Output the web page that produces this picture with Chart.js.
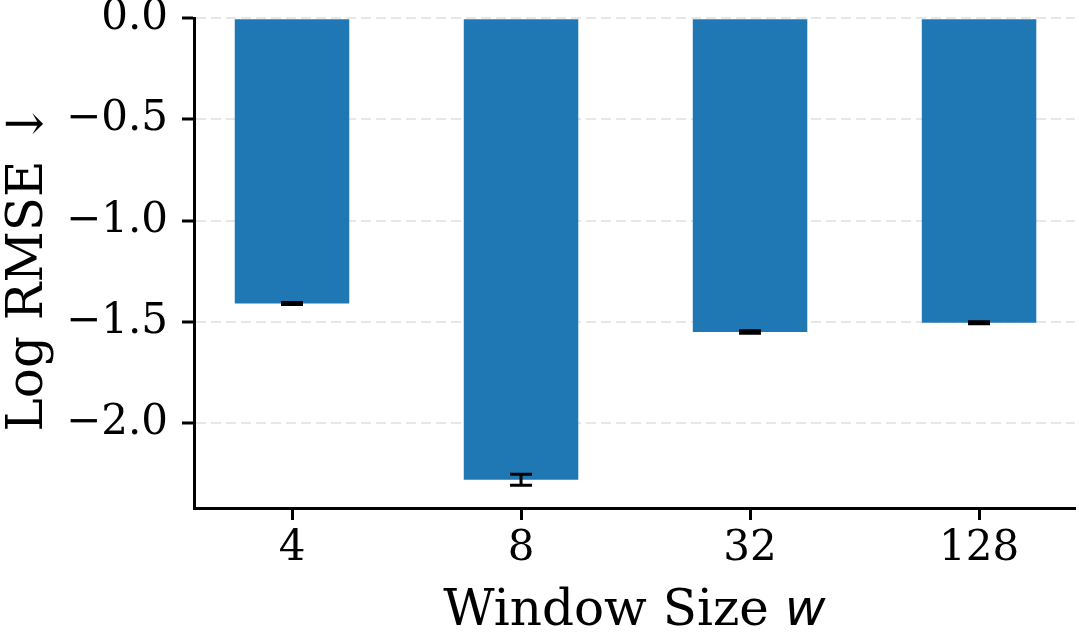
<!DOCTYPE html>
<html>
<head>
<meta charset="utf-8">
<script src="https://cdn.jsdelivr.net/npm/chart.js@4.4.1/dist/chart.umd.min.js"></script>
<style>
  body { margin: 0; background: #fff; }
  #wrap { width: 1079px; height: 640px; }
</style>
</head>
<body>
<div id="wrap"><canvas id="barChart" width="1079" height="640"></canvas></div>
<script>
// Window sizes on the x axis
const categories = ['4', '8', '32', '128'];
// Log RMSE for each window size (bars hang down from zero)
const logRmse = [-1.41, -2.28, -1.55, -1.505];
// Half length of each error bar
const errors = [0.005, 0.027, 0.006, 0.005];
// Tick values on the y axis
const yTicks = [0, -0.5, -1.0, -1.5, -2.0];

const serif = "'DejaVu Serif', serif";

// Draws the error bars and the two axis titles on top of everything
const extras = {
  id: 'extras',
  afterDraw(chart) {
    const ctx = chart.ctx;
    const x = chart.scales.x;
    const y = chart.scales.y;
    const area = chart.chartArea;

    ctx.save();
    ctx.strokeStyle = '#000';
    ctx.lineWidth = 3;
    logRmse.forEach((v, i) => {
      const px = x.getPixelForValue(i);
      const top = y.getPixelForValue(v + errors[i]);
      const bot = y.getPixelForValue(v - errors[i]);
      ctx.beginPath();
      ctx.moveTo(px, top);
      ctx.lineTo(px, bot);
      ctx.moveTo(px - 11, top);
      ctx.lineTo(px + 11, top);
      ctx.moveTo(px - 11, bot);
      ctx.lineTo(px + 11, bot);
      ctx.stroke();
    });

    // x title: serif text with an italic w
    ctx.fillStyle = '#000';
    ctx.textBaseline = 'alphabetic';
    const part1 = 'Window Size ';
    const part2 = 'w';
    const serifFont = '50px ' + serif;
    const italicFont = "italic 50px 'DejaVu Sans', sans-serif";
    ctx.font = serifFont;
    const w1 = ctx.measureText(part1).width;
    ctx.font = italicFont;
    const w2 = ctx.measureText(part2).width;
    const cx = (area.left + area.right) / 2;
    const sx = cx - (w1 + w2) / 2;
    ctx.font = serifFont;
    ctx.fillText(part1, sx, 625);
    ctx.font = italicFont;
    ctx.fillText(part2, sx + w1, 625);

    // y title, rotated
    ctx.translate(42, (area.top + area.bottom) / 2 + 4);
    ctx.rotate(-Math.PI / 2);
    ctx.font = serifFont;
    ctx.textAlign = 'center';
    ctx.fillText('Log RMSE \u2193', 0, 0);
    ctx.restore();
  }
};

new Chart(document.getElementById('barChart').getContext('2d'), {
  type: 'bar',
  data: {
    datasets: [{
      data: logRmse.map((v, i) => ({ x: i, y: v })),
      backgroundColor: '#1f77b4',
      borderWidth: 0,
      barPercentage: 0.5,
      categoryPercentage: 1.0
    }]
  },
  options: {
    responsive: false,
    animation: false,
    layout: { padding: { top: 0, right: 4, left: 0, bottom: 0 } },
    scales: {
      x: {
        type: 'linear',
        offset: false,
        min: -0.428,
        max: 3.419,
        afterBuildTicks: (scale) => { scale.ticks = categories.map((c, i) => ({ value: i })); },
        afterFit: (scale) => { scale.height = 132; },
        grid: { offset: false, drawOnChartArea: false, tickLength: 12, tickWidth: 3, tickColor: '#000' },
        border: { color: '#000', width: 3 },
        ticks: {
          color: '#000',
          padding: 4,
          font: { family: serif, size: 42 },
          callback: (v) => categories[v]
        }
      },
      y: {
        min: -2.42,
        max: 0,
        z: 1,
        afterBuildTicks: (scale) => { scale.ticks = yTicks.map(v => ({ value: v })); },
        afterFit: (scale) => { scale.width = 194; },
        grid: { color: 'rgba(176,176,176,0.3)', lineWidth: 2, tickLength: 12, tickWidth: 3, tickColor: '#000' },
        border: { color: '#000', width: 3, dash: [10, 5] },
        ticks: {
          color: '#000',
          padding: 14,
          font: { family: serif, size: 42, lineHeight: 0.2 },
          callback: (v) => v.toFixed(1).replace('-', '\u2212')
        }
      }
    },
    plugins: {
      legend: { display: false },
      tooltip: { enabled: false }
    }
  },
  plugins: [extras]
});
</script>
</body>
</html>
